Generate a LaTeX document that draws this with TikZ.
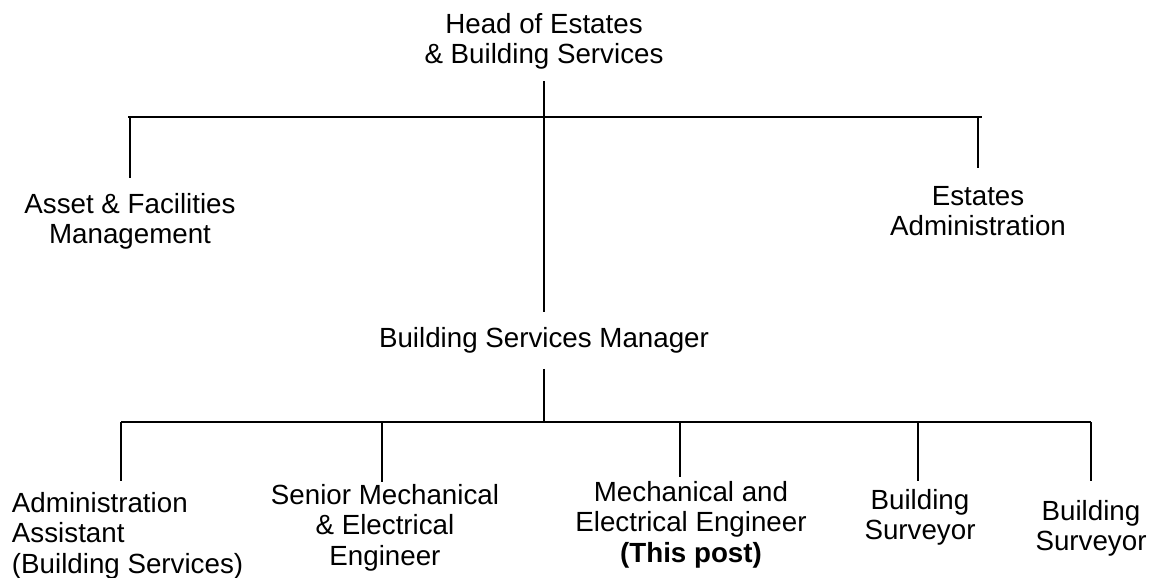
\documentclass[tikz,border=0pt]{standalone}
\usepackage{fontspec}
\setmainfont{Liberation Sans}
\begin{document}
\begin{tikzpicture}[x=0.75pt,y=-0.75pt,
  post/.style={inner sep=0pt, outer sep=0pt, anchor=north, align=center,
    font=\fontsize{20.8pt}{22.9pt}\selectfont},
  link/.style={line width=1.45pt}]
\useasboundingbox (0,0) rectangle (1160,578);

% posts
\node[post] (head) at (544,13) {Head of Estates\\\& Building Services};
\node[post] (asset) at (130,193) {Asset \& Facilities\\Management};
\node[post] (estates) at (978,186) {Estates\\Administration};
\node[post] (mgr) at (544,327) {Building Services Manager};
\node[post, align=left, anchor=north west] (admin) at (12,492)
  {Administration\\Assistant\\(Building Services)};
\node[post] (senior) at (385,484) {Senior Mechanical\\\& Electrical\\Engineer};
\node[post] (mech) at (691,481) {Mechanical and\\Electrical Engineer\\\textbf{(This post)}};
\node[post] (bs1) at (920,489) {Building\\Surveyor};
\node[post] (bs2) at (1091,500) {Building\\Surveyor};

% branch bars
\coordinate (tl) at (128,117);
\coordinate (tr) at (982,117);
\coordinate (bl) at (121,422);
\coordinate (br) at (1091,422);
\coordinate (ks) at (382,422);
\coordinate (km) at (680,422);
\coordinate (kb) at (918,422);

\draw[link] (tl) -- (tr);
\draw[link] (bl) -- (br);

% upper level
\draw[link, shorten <=9pt, shorten >=11.25pt] (head.south) -- (mgr.north);
\draw[link, shorten >=11.25pt] (asset.north |- tl) -- (asset.north);
\draw[link, shorten >=13.5pt] (estates.north |- tl) -- (estates.north);

% lower level
\draw[link, shorten <=12pt] (mgr.south) -- (mgr.south |- bl);
\draw[link, shorten >=8.25pt] (bl) -- (bl |- admin.north);
\draw[link, shorten >=1.5pt] (ks) -- (ks |- senior.north);
\draw[link, shorten >=3pt] (km) -- (km |- mech.north);
\draw[link, shorten >=6pt] (kb) -- (kb |- bs1.north);
\draw[link, shorten >=14pt] (br) -- (br |- bs2.north);
\end{tikzpicture}
\end{document}
